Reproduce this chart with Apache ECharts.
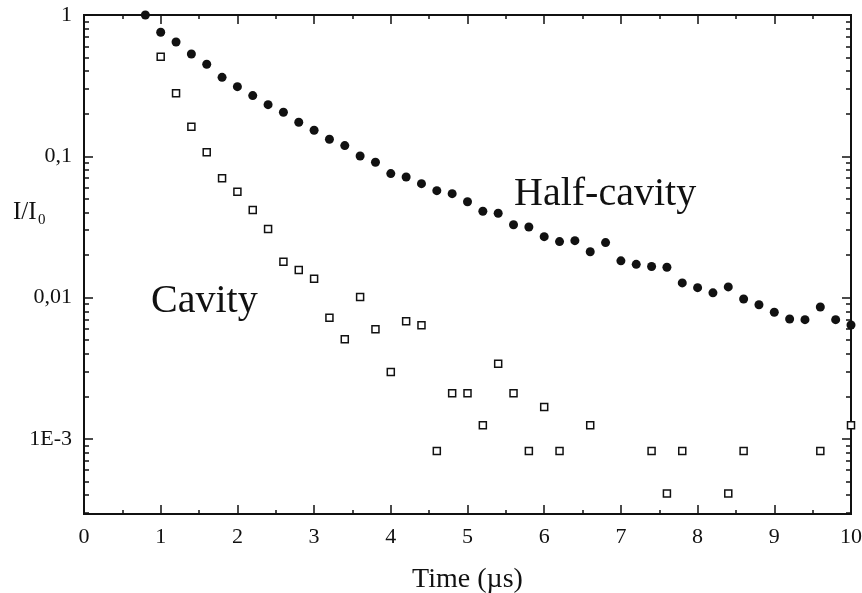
<!DOCTYPE html>
<html>

<head>
  <meta charset="utf-8">
  <title>I/I0 decay</title>
  <script src="https://cdn.jsdelivr.net/npm/echarts@6.0.0/dist/echarts.min.js"></script>
  <style>
    html, body { margin: 0; padding: 0; background: #fff; }
  </style>
</head>

<body>
  <div id="chart" style="width: 862px;height:593px;"></div>
  <script>
    // half-cavity (filled circles)
    const halfTime = [0.8, 1.0, 1.2, 1.4, 1.6, 1.8, 2.0, 2.2, 2.4, 2.6, 2.8, 3.0, 3.2, 3.4, 3.6, 3.8,
      4.0, 4.2, 4.4, 4.6, 4.8, 5.0, 5.2, 5.4, 5.6, 5.8, 6.0, 6.2, 6.4, 6.6, 6.8, 7.0, 7.2, 7.4, 7.6, 7.8,
      8.0, 8.2, 8.4, 8.6, 8.8, 9.0, 9.2, 9.4, 9.6, 9.8, 10.0];
    const halfValues = [1.0, 0.755, 0.644, 0.530, 0.448, 0.362, 0.311, 0.269, 0.232, 0.205, 0.174, 0.153,
      0.132, 0.119, 0.1005, 0.0907, 0.0754, 0.0714, 0.064, 0.0571, 0.0544, 0.0477, 0.0408, 0.0395, 0.0328,
      0.0316, 0.027, 0.0249, 0.0253, 0.0211, 0.0245, 0.0182, 0.0172, 0.0166, 0.0164, 0.0127, 0.01175,
      0.0108, 0.0119, 0.00977, 0.0089, 0.00787, 0.00705, 0.00698, 0.00858, 0.00698, 0.0064];

    // cavity (open squares), empty time bins are not plotted
    const cavityTime = [1.0, 1.2, 1.4, 1.6, 1.8, 2.0, 2.2, 2.4, 2.6, 2.8, 3.0, 3.2, 3.4, 3.6, 3.8, 4.0,
      4.2, 4.4, 4.6, 4.8, 5.0, 5.2, 5.4, 5.6, 5.8, 6.0, 6.2, 6.6, 7.4, 7.6, 7.8, 8.4, 8.6, 9.6, 10.0];
    const cavityValues = [0.507, 0.279, 0.162, 0.107, 0.0699, 0.0562, 0.0417, 0.0306, 0.0179, 0.0157,
      0.0136, 0.00721, 0.00507, 0.0101, 0.00597, 0.00297, 0.00679, 0.00637, 0.00082, 0.0021, 0.0021,
      0.00125, 0.0034, 0.0021, 0.00082, 0.00168, 0.00082, 0.00125, 0.00082, 0.00041, 0.00082, 0.00041,
      0.00082, 0.00082, 0.00125];

    const yMajorTicks = [0.001, 0.01, 0.1, 1];
    const yTickLabels = ['1E-3', '0,01', '0,1', '1'];
    const yMin = 2.94e-4, yMax = 1;

    let yMinorTicks = [];
    for (let d of [1e-4, 1e-3, 1e-2, 1e-1])
      for (let m = 2; m <= 9; m++)
        yMinorTicks.push(+(m * d).toPrecision(3));

    const font = 'Liberation Serif';
    const ink = '#111';

    function zip(xs, ys) {
      let out = [];
      for (let i in xs) out.push([xs[i], ys[i]]);
      return out;
    }

    function yAxisDef(pos, ticks, len, labels) {
      return {
        type: 'log', logBase: 10, position: pos, min: yMin, max: yMax,
        axisLine: { show: true, lineStyle: { color: ink, width: 2 } },
        axisTick: { show: true, inside: true, length: len, customValues: ticks, lineStyle: { color: ink, width: 1.5 } },
        axisLabel: labels ? {
          show: true, customValues: yMajorTicks, margin: 12,
          fontFamily: font, fontSize: 22, color: ink,
          formatter: function (v) {
            for (let i in yMajorTicks)
              if (Math.abs(Math.log10(v) - Math.log10(yMajorTicks[i])) < 1e-6) return yTickLabels[i];
            return '';
          }
        } : { show: false },
        splitLine: { show: false }, minorTick: { show: false }, minorSplitLine: { show: false }
      };
    }

    function xAxisDef(pos, labels) {
      return {
        type: 'value', position: pos, min: 0, max: 10, interval: 1,
        axisLine: { show: true, onZero: false, lineStyle: { color: ink, width: 2 } },
        axisTick: { show: true, inside: true, length: 9, lineStyle: { color: ink, width: 1.5 } },
        minorTick: { show: true, splitNumber: 2, length: 4, lineStyle: { color: ink, width: 1.5 } },
        axisLabel: labels ? { show: true, margin: 12, fontFamily: font, fontSize: 22, color: ink } : { show: false },
        name: labels ? 'Time (µs)' : '',
        nameLocation: 'middle', nameGap: 52,
        nameTextStyle: { fontFamily: font, fontSize: 28, color: ink },
        splitLine: { show: false }
      };
    }

    let myChart = echarts.init(document.getElementById('chart'));
    let option = {
      animation: false,
      grid: { left: 84, right: 11, top: 15, bottom: 79, outerBoundsMode: 'none', containLabel: false },
      xAxis: [xAxisDef('bottom', true), xAxisDef('top', false)],
      yAxis: [
        yAxisDef('left', yMajorTicks, 9, true),
        yAxisDef('left', yMinorTicks, 5, false),
        yAxisDef('right', yMajorTicks, 9, false),
        yAxisDef('right', yMinorTicks, 5, false)
      ],
      series: [
        {
          name: 'Half-cavity', type: 'scatter', clip: false,
          xAxisIndex: 0, yAxisIndex: 0,
          symbol: 'circle', symbolSize: 9,
          itemStyle: { color: ink, opacity: 1 },
          data: zip(halfTime, halfValues)
        },
        {
          name: 'Cavity', type: 'scatter', clip: false,
          xAxisIndex: 0, yAxisIndex: 0,
          symbol: 'rect', symbolSize: 7,
          itemStyle: { color: '#fff', borderColor: ink, borderWidth: 1.5, opacity: 1 },
          data: zip(cavityTime, cavityValues)
        }
      ],
      graphic: [
        { type: 'text', left: 514, top: 174, style: { text: 'Half-cavity', fontFamily: font, fontSize: 40, fill: ink } },
        { type: 'text', left: 151, top: 281, style: { text: 'Cavity', fontFamily: font, fontSize: 40, fill: ink } },
        { type: 'text', left: 13, top: 200, style: { text: 'I/I', fontFamily: font, fontSize: 25, fill: ink } },
        { type: 'text', left: 38, top: 213, style: { text: '0', fontFamily: font, fontSize: 15, fill: ink } }
      ]
    };
    myChart.setOption(option);
  </script>

</body>

</html>
